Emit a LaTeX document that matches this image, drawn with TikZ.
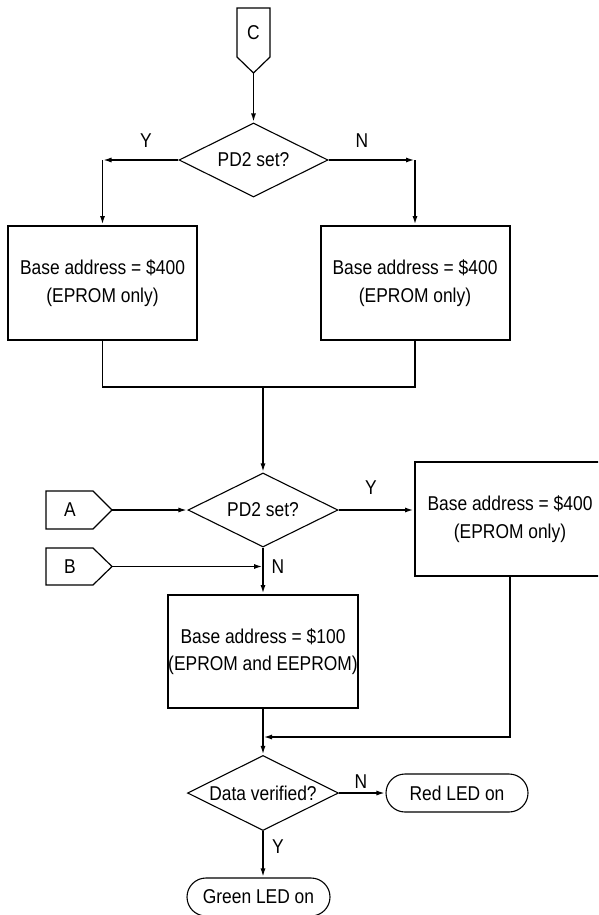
\documentclass[tikz,border=0pt]{standalone}
\usepackage{fontspec}
\setmainfont[FakeStretch=0.87]{Liberation Sans}
\usetikzlibrary{shapes.geometric,arrows.meta,calc}
\begin{document}
\begin{tikzpicture}[x=1pt,y=-1pt,
  every node/.style={font=\fontsize{20}{27.5}\selectfont},
  boxnode/.style={draw,line width=2pt,inner sep=0pt,align=center},
  dec/.style={draw,diamond,aspect=2,line width=1.1pt,inner sep=-3pt},
  term/.style={draw,line width=1.1pt,rounded corners=19pt,inner sep=0pt,minimum height=38pt},
  conn/.style={draw,line width=1.2pt,line join=miter},
  lbl/.style={inner sep=0pt},
  flow/.style={line width=1.9pt},
  arr/.style={flow,-{Latex[length=9pt,width=5pt]}}]
\useasboundingbox (0,0) rectangle (598,915);
\clip (0,0) rectangle (598,915);

% off-page connector C
\draw[conn] (237,8) -- (270,8) -- (270,57) -- (253.5,73) -- (237,57) -- cycle;
\node[lbl] (C) at (253.5,33) {C};
\coordinate (Ctip) at (253.5,73);

% first decision
\node[dec, minimum width=149pt, minimum height=74pt] (d1) at (253.5,160) {PD2 set?};
\node[lbl] (y1) at (146,141) {Y};
\node[lbl] (n1) at (362,141) {N};

\node[boxnode, minimum width=189pt, minimum height=114pt] (b1) at (102.5,283) {Base address = \$400\\(EPROM only)};
\node[boxnode, minimum width=189pt, minimum height=114pt] (b2) at (415,283) {Base address = \$400\\(EPROM only)};

\draw[arr] (Ctip) -- (d1.north);
\coordinate (cL) at (b1.north |- d1.west);
\coordinate (cR) at (b2.north |- d1.east);
\draw[arr] (d1.west) -- (cL);
\draw[arr] (cL) -- (b1.north);
\draw[arr] (d1.east) -- (cR);
\draw[arr] (cR) -- (b2.north);

% merge
\coordinate (m) at (263,387);
\draw[flow] (b1.south) -- (b1.south |- m) -- (b2.south |- m) -- (b2.south);

% second decision
\node[dec, minimum width=150pt, minimum height=74pt] (d2) at (263,510) {PD2 set?};
\draw[arr] (m) -- (d2.north);

% connectors A and B
\draw[conn] (46,491) -- (93,491) -- (112,510) -- (93,529) -- (46,529) -- cycle;
\node[lbl] (A) at (70,510) {A};
\coordinate (Atip) at (112,510);
\draw[conn] (46,548) -- (93,548) -- (112,566.5) -- (93,585) -- (46,585) -- cycle;
\node[lbl] (B) at (70,566.5) {B};
\coordinate (Btip) at (112,566.5);
\coordinate (Bj) at (263,566.5);
\draw[arr] (Atip) -- (d2.west);
\draw[arr] (Btip) -- (Bj);
\node[lbl] (n2) at (278,567) {N};
\node[lbl] (y2) at (371,488) {Y};

\node[boxnode, minimum width=190pt, minimum height=114pt] (b3) at (510,519) {Base address = \$400\\(EPROM only)};
\draw[arr] (d2.east) -- (d2.east -| b3.west);

\node[boxnode, minimum width=190pt, minimum height=113pt] (b4) at (263,651.5) {Base address = \$100\\(EPROM and EEPROM)};
\draw[arr] (d2.south) -- (b4.north);

% merge 2
\coordinate (m2) at (263,737);
\draw[arr] (b3.south) -- (b3.south |- m2) -- (m2);

% third decision
\node[dec, minimum width=151pt, minimum height=75pt] (d3) at (263,793) {Data verified?};
\draw[arr] (b4.south) -- (d3.north);

\node[term, minimum width=142pt] (red) at (457,793) {Red LED on};
\node[term, minimum width=143pt] (green) at (258.5,897) {Green LED on};
\draw[arr] (d3.east) -- (red.west);
\draw[arr] (d3.south) -- (d3.south |- green.north);
\node[lbl] (n3) at (361,782) {N};
\node[lbl] (y3) at (278,847) {Y};
\end{tikzpicture}
\end{document}
